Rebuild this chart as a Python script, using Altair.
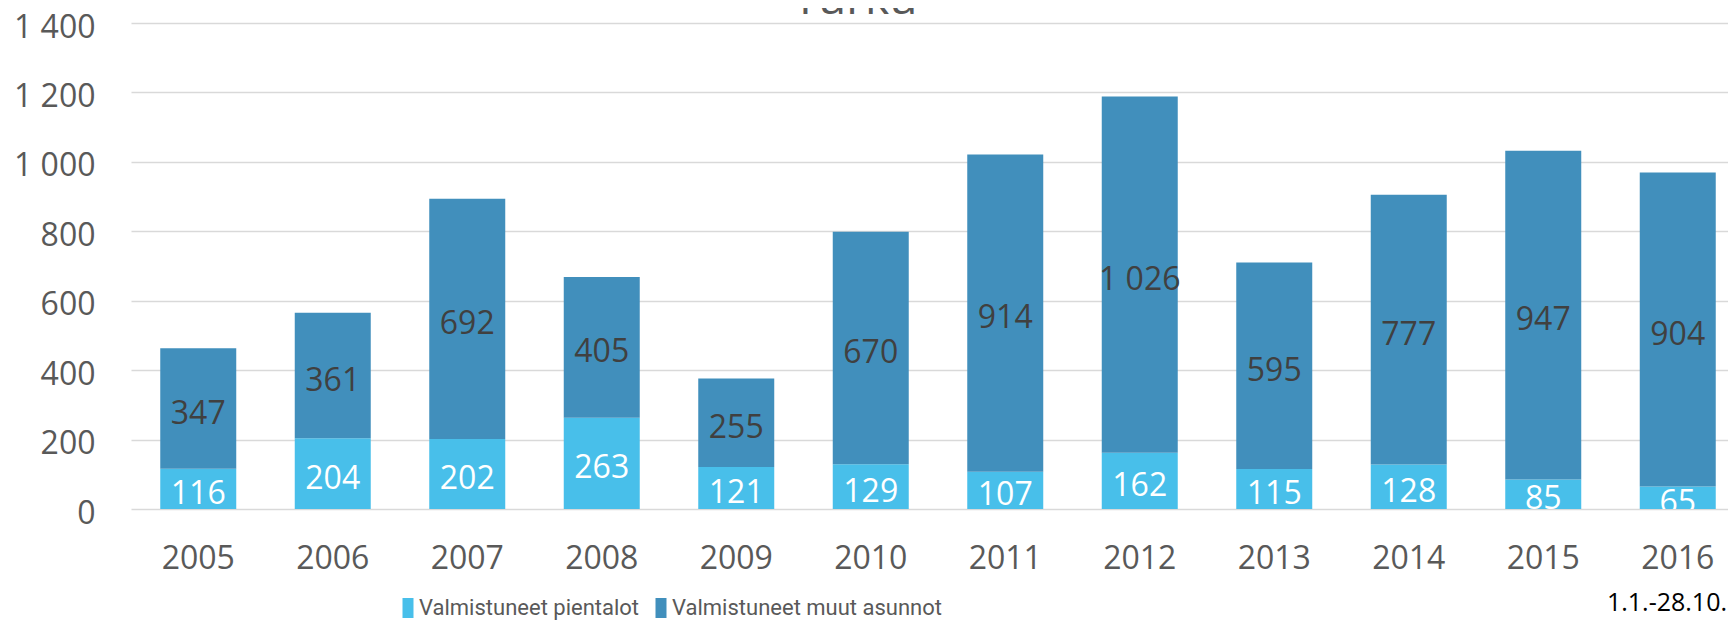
import altair as alt
import pandas as pd

years = ["2005", "2006", "2007", "2008", "2009", "2010", "2011", "2012", "2013", "2014", "2015", "2016"]
pientalot = [116, 204, 202, 263, 121, 129, 107, 162, 115, 128, 85, 65]
muut = [347, 361, 692, 405, 255, 670, 914, 1026, 595, 777, 947, 904]
series = ["Valmistuneet pientalot", "Valmistuneet muut asunnot"]
colors = ["#48BFEA", "#418FBC"]
title_text = "Turku"
note_text = "1.1.-28.10."

rows = []
for i, y in enumerate(years):
    rows.append({"year": y, "series": series[0], "value": pientalot[i], "ord": 0})
    rows.append({"year": y, "series": series[1], "value": muut[i], "ord": 1})
df = pd.DataFrame(rows)
df["label"] = df["value"].map(lambda v: f"{v:,}".replace(",", " "))

FONT = "Open Sans"
LEGEND_FONT = "Roboto"
W = 1597
H = 486

xscale = alt.Scale(domain=years, range=[0, 1614], paddingInner=0.435, paddingOuter=0.2175)
yscale = alt.Scale(domain=[0, 1400])

base = alt.Chart(df)

bars = base.mark_bar().encode(
    x=alt.X("year:N", scale=xscale, sort=years,
            axis=alt.Axis(title=None, ticks=False, domain=False, grid=False,
                          labelFont=FONT, labelFontSize=32, labelColor="#595959",
                          labelPadding=34, labelAngle=0)),
    y=alt.Y("value:Q", scale=yscale, stack="zero",
            axis=alt.Axis(title=None, ticks=False, domain=False, grid=True,
                          gridColor="#D9D9D9", gridWidth=1.5, values=list(range(0, 1401, 200)),
                          labelFont=FONT, labelFontSize=32, labelColor="#595959",
                          labelPadding=36, labelOffset=4,
                          labelExpr="replace(format(datum.value, ','), ',', ' ')")),
    color=alt.Color("series:N", scale=alt.Scale(domain=series, range=colors),
                    legend=alt.Legend(title=None, orient="none", direction="horizontal",
                                      legendX=266, legendY=574, padding=0,
                                      symbolType="M-0.55,-1H0.55V1H-0.55Z",
                                      symbolSize=400, symbolStrokeWidth=0,
                                      labelFont=LEGEND_FONT, labelFontSize=22,
                                      labelColor="#595959", labelOffset=0,
                                      labelLimit=600, columnPadding=10)),
    order=alt.Order("ord:Q", sort="ascending"),
)

stacked = base.transform_stack(
    stack="value", groupby=["year"], as_=["v0", "v1"], sort=[alt.SortField("ord", order="ascending")]
).transform_calculate(mid="(datum.v0 + datum.v1) / 2")

labels_low = stacked.transform_filter(alt.datum.ord == 0).mark_text(
    font=FONT, fontSize=32, color="white", baseline="middle", align="center", clip=True, dy=5
).encode(
    x=alt.X("year:N", scale=xscale, sort=years),
    y=alt.Y("mid:Q", scale=yscale),
    text="label:N",
)

labels_high = stacked.transform_filter(alt.datum.ord == 1).mark_text(
    font=FONT, fontSize=32, color="#404040", baseline="middle", align="center", dy=5
).encode(
    x=alt.X("year:N", scale=xscale, sort=years),
    y=alt.Y("mid:Q", scale=yscale),
    text="label:N",
)

title = alt.Chart(pd.DataFrame({"t": [title_text]})).mark_text(
    font=FONT, fontSize=46, color="#595959", baseline="alphabetic", align="center"
).encode(text="t:N", x=alt.value(724), y=alt.value(-9))

note = alt.Chart(pd.DataFrame({"t": [note_text]})).mark_text(
    font=FONT, fontSize=25, color="#000000", baseline="middle", align="right"
).encode(text="t:N", x=alt.value(1596), y=alt.value(580))

chart = alt.layer(bars, labels_low, labels_high, title, note).properties(
    width=W, height=H,
    autosize=alt.AutoSizeParams(type="none"),
    padding={"left": 123, "top": 15, "right": 0, "bottom": 116},
).configure_view(stroke=None)

chart.save("out.html", embed_options={"renderer": "svg", "actions": False})
